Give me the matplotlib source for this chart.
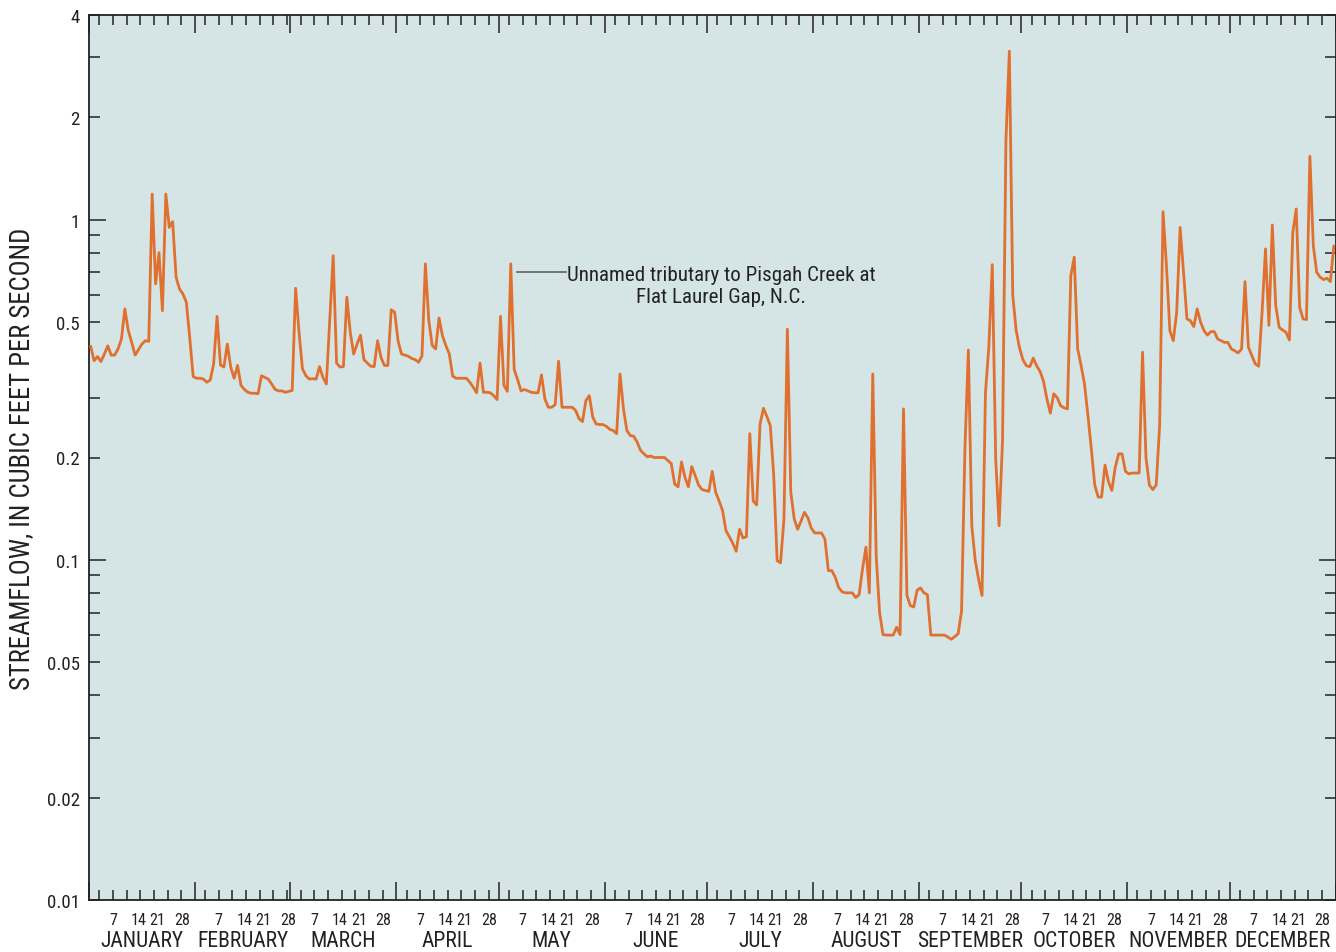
import numpy as np
import matplotlib
matplotlib.use("Agg")
import matplotlib.pyplot as plt
from matplotlib import font_manager
from matplotlib.font_manager import FontProperties
from matplotlib.textpath import TextToPath

# ---------------- data (daily mean streamflow, ft3/s) ----------------
months = ["JANUARY", "FEBRUARY", "MARCH", "APRIL", "MAY", "JUNE", "JULY",
          "AUGUST", "SEPTEMBER", "OCTOBER", "NOVEMBER", "DECEMBER"]
month_days = [31, 28, 31, 30, 31, 30, 31, 31, 30, 31, 30, 31]
day_tick_labels = ["7", "14", "21", "28"]

jan = [0.424, 0.385, 0.396, 0.383, 0.403, 0.426, 0.400, 0.400, 0.417, 0.446,
       0.547, 0.472, 0.436, 0.400, 0.415, 0.431, 0.441, 0.439, 1.19, 0.648,
       0.80, 0.54, 1.19, 0.95, 0.987, 0.678, 0.626, 0.605, 0.572, 0.45, 0.346]
feb = [0.342, 0.342, 0.340, 0.333, 0.338, 0.377, 0.520, 0.374, 0.369, 0.431,
       0.369, 0.342, 0.373, 0.326, 0.317, 0.311, 0.309, 0.309, 0.308, 0.348,
       0.344, 0.340, 0.329, 0.317, 0.314, 0.314, 0.311, 0.313]
mar = [0.315, 0.629, 0.467, 0.365, 0.348, 0.340, 0.341, 0.340, 0.370, 0.344,
       0.329, 0.508, 0.784, 0.379, 0.369, 0.370, 0.592, 0.467, 0.403, 0.431,
       0.458, 0.388, 0.379, 0.371, 0.370, 0.441, 0.394, 0.373, 0.373, 0.544,
       0.535]
apr = [0.441, 0.403, 0.400, 0.397, 0.391, 0.388, 0.381, 0.398, 0.742, 0.505,
       0.427, 0.417, 0.514, 0.456, 0.427, 0.403, 0.347, 0.342, 0.342, 0.342,
       0.342, 0.333, 0.322, 0.310, 0.379, 0.311, 0.311, 0.310, 0.304, 0.296]
may = [0.520, 0.326, 0.313, 0.742, 0.363, 0.339, 0.314, 0.317, 0.314, 0.311,
       0.310, 0.310, 0.350, 0.297, 0.281, 0.281, 0.286, 0.384, 0.281, 0.281,
       0.281, 0.281, 0.275, 0.260, 0.255, 0.294, 0.304, 0.263, 0.251, 0.250,
       0.250]
jun = [0.247, 0.242, 0.240, 0.235, 0.352, 0.278, 0.240, 0.232, 0.231, 0.222,
       0.210, 0.205, 0.201, 0.202, 0.200, 0.200, 0.200, 0.200, 0.196, 0.192,
       0.167, 0.164, 0.194, 0.175, 0.164, 0.188, 0.177, 0.166, 0.161, 0.160]
jul = [0.159, 0.182, 0.158, 0.149, 0.140, 0.122, 0.117, 0.112, 0.106, 0.123,
       0.116, 0.117, 0.235, 0.149, 0.145, 0.251, 0.279, 0.264, 0.248, 0.177,
       0.0995, 0.098, 0.132, 0.477, 0.158, 0.132, 0.123, 0.130, 0.138, 0.133,
       0.124]
aug = [0.120, 0.120, 0.120, 0.115, 0.093, 0.093, 0.089, 0.083, 0.0806, 0.080,
       0.080, 0.080, 0.0775, 0.079, 0.094, 0.109, 0.080, 0.352, 0.103, 0.070,
       0.0603, 0.0601, 0.0601, 0.0601, 0.0634, 0.0603, 0.278, 0.0786, 0.0734,
       0.0727, 0.0815]
sep = [0.0827, 0.080, 0.079, 0.0601, 0.0601, 0.0601, 0.0601, 0.0601, 0.0593,
       0.0584, 0.0595, 0.0606, 0.0707, 0.214, 0.414, 0.126, 0.0997, 0.0876,
       0.0786, 0.31, 0.425, 0.738, 0.198, 0.126, 0.225, 1.716, 3.13, 0.598,
       0.472, 0.419]
oct_ = [0.387, 0.372, 0.370, 0.392, 0.372, 0.358, 0.335, 0.297, 0.270, 0.308,
        0.300, 0.284, 0.280, 0.278, 0.685, 0.776, 0.417, 0.373, 0.329, 0.266,
        0.212, 0.166, 0.153, 0.153, 0.190, 0.170, 0.160, 0.187, 0.205, 0.205,
        0.182]
nov = [0.179, 0.180, 0.180, 0.180, 0.408, 0.200, 0.166, 0.161, 0.166, 0.248,
       1.056, 0.733, 0.472, 0.441, 0.535, 0.950, 0.701, 0.511, 0.505, 0.485,
       0.547, 0.500, 0.472, 0.458, 0.469, 0.469, 0.446, 0.441, 0.436, 0.436]
dec = [0.417, 0.412, 0.406, 0.417, 0.658, 0.422, 0.399, 0.377, 0.371, 0.535,
       0.821, 0.489, 0.965, 0.559, 0.483, 0.474, 0.467, 0.443, 0.919, 1.076,
       0.553, 0.511, 0.509, 1.537, 0.839, 0.701, 0.678, 0.667, 0.673, 0.658,
       0.836]

y_major = [1, 0.1]
y_major_labels = ["1", "0.1"]
y_minor = [4, 3, 2, 0.9, 0.8, 0.7, 0.6, 0.5, 0.3, 0.2,
           0.09, 0.08, 0.07, 0.06, 0.05, 0.04, 0.03, 0.02, 0.01]
y_minor_labels = ["4", "", "2", "", "", "", "", "0.5", "", "0.2",
                  "", "", "", "", "0.05", "", "", "0.02", "0.01"]

station_label = "Unnamed tributary to Pisgah Creek at\nFlat Laurel Gap, N.C."
y_axis_label = "STREAMFLOW, IN CUBIC FEET PER SECOND"

# ---------------- font: prefer a condensed sans ----------------
def find_font():
    entries = font_manager.fontManager.ttflist
    wanted = ["Liberation Sans Narrow", "Roboto Condensed", "Open Sans Condensed",
              "Noto Sans Condensed", "DejaVu Sans Condensed"]
    for w in wanted:
        for f in entries:
            if f.name == w and f.style == "normal" and f.weight in (400, "normal", "regular"):
                return f.fname
    for f in entries:
        if f.name in ("DejaVu Sans", "Noto Sans", "Roboto", "Open Sans") and \
                str(f.stretch) in ("condensed", "semi-condensed") and \
                f.style == "normal" and f.weight in (400, "normal", "regular"):
            return f.fname
    for f in entries:
        if ("Condensed" in f.fname or "Narrow" in f.fname) and "Bold" not in f.fname \
                and "Italic" not in f.fname and "Oblique" not in f.fname \
                and "Mono" not in f.fname and "Serif" not in f.fname:
            return f.fname
    return None

fpath = find_font()
if fpath:
    base_prop = FontProperties(fname=fpath)
else:
    base_prop = FontProperties(family=["Liberation Sans", "DejaVu Sans"])

# keep the reference's text widths: "JANUARY" is ~84 px wide at 15.5 pt
_t2p = TextToPath()
_probe = base_prop.copy()
_probe.set_size(15.5)
_w, _, _ = _t2p.get_text_width_height_descent("JANUARY", _probe, ismath=False)
fscale = float(np.clip((84 * 0.72) / _w, 0.72, 1.1))


def fp(size):
    p = base_prop.copy()
    p.set_size(size * fscale)
    return p


flow = np.concatenate([jan, feb, mar, apr, may, jun, jul, aug, sep, oct_, nov, dec])
days = np.arange(len(flow)) + 0.5

bounds = np.concatenate([[0], np.cumsum(month_days)])
minor_x = [b + k for b in bounds[:-1] for k in (3, 7, 11, 15, 19, 23, 27)]

# ---------------- figure ----------------
W, H = 1336, 953
fig = plt.figure(figsize=(W / 100, H / 100), dpi=100)
ax = fig.add_axes([89 / W, 52 / H, 1246.5 / W, 885 / H])
ax.set_facecolor("#d5e5e5")

ax.plot(days, flow, color="#e07030", lw=2.0, zorder=3)

ax.set_yscale("log")
ax.set_ylim(0.01, 4)
ax.set_xlim(0, 365)

ax.set_yticks(y_major, labels=y_major_labels)
ax.set_yticks(y_minor, labels=y_minor_labels, minor=True)
ax.set_xticks(bounds)
ax.set_xticks(minor_x, minor=True)
ax.tick_params(axis="x", which="both", direction="in", top=True, bottom=True,
               labelbottom=False, width=1.1, color="#222222")
ax.tick_params(axis="x", which="major", length=13)
ax.tick_params(axis="x", which="minor", length=7.5)
ax.tick_params(axis="y", which="both", direction="in", left=True, right=True,
               pad=6.5, width=1.1, color="#222222")
ax.tick_params(axis="y", which="major", length=12)
ax.tick_params(axis="y", which="minor", length=8)
for lab in ax.get_yticklabels(which="both"):
    lab.set_fontproperties(fp(13.5))
    lab.set_color("#222222")

for s in ax.spines.values():
    s.set_linewidth(1.3)
    s.set_color("#222222")

# day labels and month names
for i, b in enumerate(bounds[:-1]):
    for lab, off in zip(day_tick_labels, (7, 14.5, 20.0, 27.2)):
        ax.annotate(lab, xy=(b + off, 0), xycoords=("data", "axes fraction"),
                    xytext=(0, -13.7), textcoords="offset points",
                    ha="center", va="center", fontproperties=fp(11.5),
                    color="#222222")
    ax.annotate(months[i], xy=((b + bounds[i + 1]) / 2, 0),
                xycoords=("data", "axes fraction"),
                xytext=(0, -33.3), textcoords="offset points",
                ha="center", va="baseline", fontproperties=fp(15.5),
                color="#222222")

fig.text(22 / W, 1 - 459 / H, y_axis_label, rotation=90, ha="center",
         va="center", fontproperties=fp(19), color="#222222")

# station annotation with leader line
ax.plot([125.3, 139.6], [0.703, 0.703], color="#555555", lw=1.1, zorder=4)
ax.text(139.9, 0.641, station_label, ha="left", va="center",
        multialignment="center", fontproperties=fp(15), linespacing=1.15,
        color="#222222", zorder=4)

fig.savefig("out.png", dpi=100)
